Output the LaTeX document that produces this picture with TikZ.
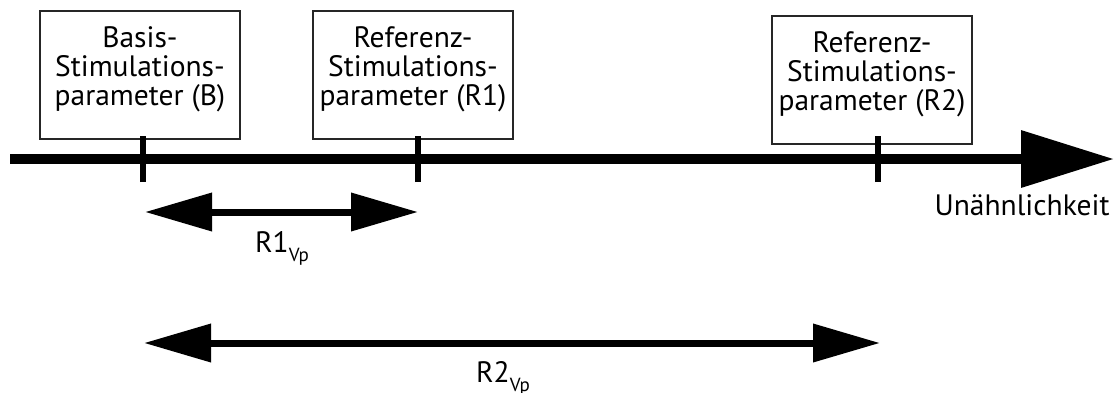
\documentclass[tikz,border=0pt]{standalone}
\usepackage{fontspec}
\setmainfont{PT Sans}
\usetikzlibrary{arrows.meta}

% label with a lowered, smaller index
\newcommand{\vplabel}[1]{#1\raisebox{-9pt}{\fontsize{19}{19}\selectfont Vp}}

\begin{document}
\begin{tikzpicture}[x=1pt,y=-1pt,
  every node/.style={font=\fontsize{29.5}{29}\selectfont},
  parambox/.style={draw=black!85,line width=1.3pt,minimum width=200pt,
    minimum height=128pt,inner sep=0pt},
  boxtext/.style={align=center,inner sep=0pt},
  axisline/.style={line width=10pt,-{Triangle[length=93pt,width=55pt]}},
  tickmark/.style={line width=6.5pt},
  span/.style={line width=7pt,{Triangle[length=67pt,width=37pt]}-{Triangle[length=67pt,width=37pt]}},
  spanlabel/.style={anchor=base}]
\useasboundingbox (0,0) rectangle (1114,392);

% parameter boxes, text set a little above the box centre
\node[parambox] (B)  at (140,75) {};
\node[parambox] (R1) at (413,75) {};
\node[parambox] (R2) at (872,80) {};
\node[boxtext] (Bt)  at ([yshift=6pt]B.center)  {Basis-\\Stimulations-\\parameter (B)};
\node[boxtext] (R1t) at ([yshift=6pt]R1.center) {Referenz-\\Stimulations-\\parameter (R1)};
\node[boxtext] (R2t) at ([yshift=6pt]R2.center) {Referenz-\\Stimulations-\\parameter (R2)};

% dissimilarity axis
\coordinate (a0) at (10,159);
\coordinate (a1) at (1114,159);
\draw[axisline] (a0) -- (a1);
\node[anchor=base east] (ax) at (1113,215) {Unähnlichkeit};

% tick marks on the axis
\coordinate (tB)  at (143,159);
\coordinate (tR1) at (418,159);
\coordinate (tR2) at (878,159);
\foreach \t in {tB,tR1,tR2}
  \draw[tickmark] ([yshift=-23pt]\t) -- ([yshift=23pt]\t);

% distances from the basis parameter
\coordinate (s1a) at (145,212);
\coordinate (s1b) at (418,212);
\draw[span] (s1a) -- (s1b);
\node[spanlabel] (d1) at (282,252) {\vplabel{R1}};

\coordinate (s2a) at (144,343);
\coordinate (s2b) at (880,343);
\draw[span] (s2a) -- (s2b);
\node[spanlabel] (d2) at (503,382) {\vplabel{R2}};
\end{tikzpicture}
\end{document}
